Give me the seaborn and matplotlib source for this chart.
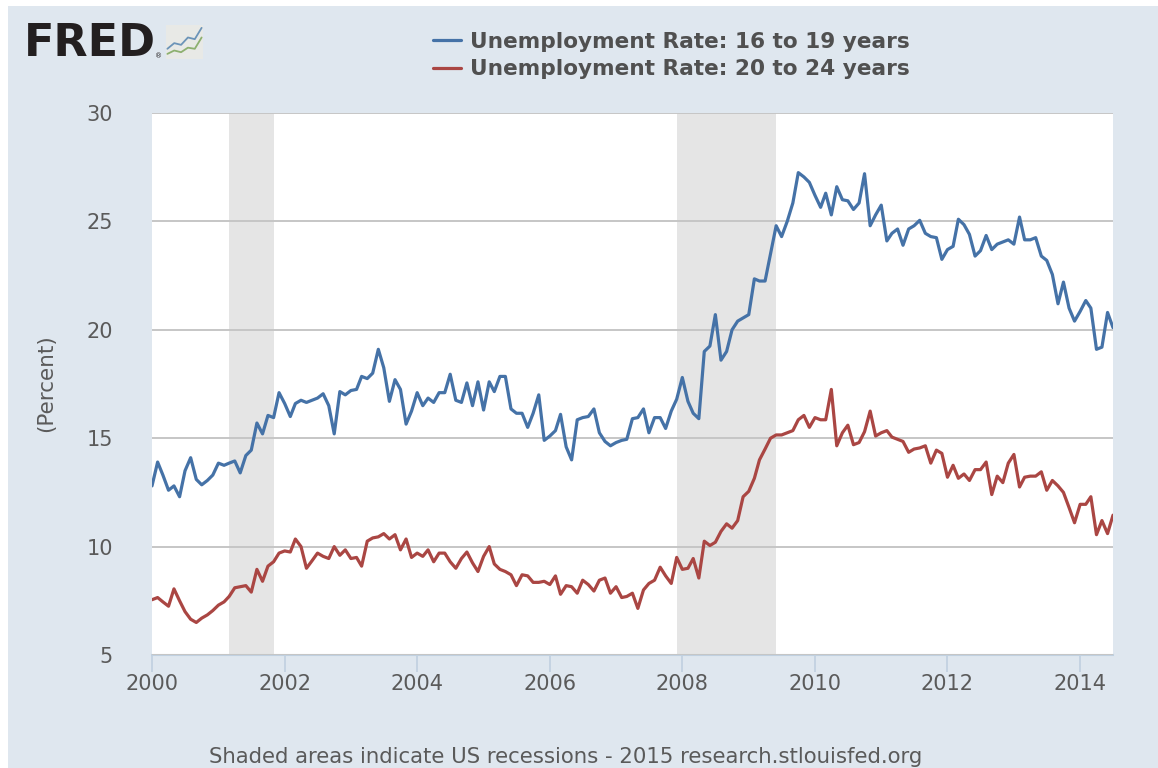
import numpy as np
import pandas as pd
import matplotlib
matplotlib.use("Agg")
import matplotlib.pyplot as plt
from matplotlib.patches import Rectangle
import seaborn as sns

START = "2000-01-01"
teen = [12.8,13.9,13.3,12.6,12.8,12.3,13.5,14.1,13.1,12.85,13.05,13.3,13.85,13.75,13.85,13.95,13.4,14.2,14.45,15.7,
15.2,16.05,15.95,17.1,16.6,16.0,16.6,16.75,16.65,16.75,16.85,17.05,16.5,15.2,17.15,17.0,17.2,17.25,17.85,17.75,
18.0,19.1,18.25,16.7,17.7,17.25,15.65,16.25,17.1,16.5,16.85,16.65,17.1,17.1,17.95,16.75,16.65,17.55,16.5,17.6,
16.3,17.6,17.15,17.85,17.85,16.35,16.15,16.15,15.5,16.15,17.0,14.9,15.1,15.35,16.1,14.6,14.0,15.85,15.95,16.0,
16.35,15.25,14.85,14.65,14.8,14.9,14.95,15.9,15.95,16.35,15.25,15.95,15.95,15.45,16.25,16.8,17.8,16.7,16.15,15.9,
19.0,19.25,20.7,18.6,19.0,20.0,20.4,20.55,20.7,22.35,22.25,22.25,23.5,24.8,24.3,25.0,25.85,27.25,27.05,26.8,
26.2,25.65,26.3,25.3,26.6,26.0,25.95,25.55,25.85,27.2,24.8,25.3,25.75,24.1,24.45,24.65,23.9,24.65,24.8,25.05,
24.45,24.3,24.25,23.25,23.7,23.85,25.1,24.85,24.4,23.4,23.65,24.35,23.7,23.95,24.05,24.15,23.95,25.2,24.15,24.15,
24.25,23.4,23.2,22.55,21.2,22.2,21.0,20.4,20.85,21.35,21.0,19.1,19.2,20.8,20.1]
young = [7.55,7.65,7.45,7.25,8.05,7.5,7.0,6.65,6.5,6.7,6.85,7.05,7.3,7.45,7.7,8.1,8.15,8.2,7.9,8.95,
8.4,9.1,9.3,9.7,9.8,9.75,10.35,10.0,9.0,9.35,9.7,9.55,9.45,10.0,9.6,9.85,9.45,9.5,9.1,10.25,
10.4,10.45,10.6,10.35,10.55,9.85,10.35,9.5,9.7,9.55,9.85,9.3,9.7,9.7,9.3,9.0,9.45,9.75,9.25,8.85,
9.55,10.0,9.2,8.95,8.85,8.7,8.2,8.7,8.65,8.35,8.35,8.4,8.25,8.65,7.8,8.2,8.15,7.85,8.45,8.25,
7.95,8.45,8.55,7.85,8.15,7.65,7.7,7.85,7.15,8.0,8.3,8.45,9.05,8.65,8.3,9.5,8.95,9.0,9.45,8.55,
10.25,10.05,10.2,10.7,11.05,10.85,11.2,12.3,12.55,13.15,14.0,14.5,15.0,15.15,15.15,15.25,15.35,15.85,16.05,15.5,
15.95,15.85,15.85,17.25,14.65,15.25,15.6,14.7,14.8,15.3,16.25,15.1,15.25,15.35,15.05,14.95,14.85,14.35,14.5,14.55,
14.65,13.85,14.45,14.3,13.2,13.75,13.15,13.35,13.05,13.55,13.55,13.9,12.4,13.25,12.95,13.85,14.25,12.75,13.2,13.25,
13.25,13.45,12.6,13.05,12.8,12.5,11.8,11.1,11.95,11.95,12.3,10.55,11.2,10.6,11.45]
series_names = ["Unemployment Rate: 16 to 19 years", "Unemployment Rate: 20 to 24 years"]
recessions = [("2001-03-01", "2001-11-01"), ("2007-12-01", "2009-06-01")]
y_ticks = [5, 10, 15, 20, 25, 30]
x_years = [2000, 2002, 2004, 2006, 2008, 2010, 2012, 2014]
logo_blue = [0.9, 1.4, 1.25, 1.9, 1.75, 2.75]
logo_green = [0.45, 0.75, 0.6, 1.0, 0.9, 1.9]

BG = "#DFE7EF"
TXT = "#5A5A5A"
W, H = 1158, 768
sns.set_theme(style="white")
plt.rcParams["font.family"] = "DejaVu Sans"

fig = plt.figure(figsize=(W/100, H/100), dpi=100, facecolor="white")
fig.add_artist(Rectangle((8/W, 0), 1-8/W, 1-6/H, transform=fig.transFigure, facecolor=BG,
                         edgecolor="none", zorder=-5))
ax = fig.add_axes([152/W, 1-655/H, (1113-152)/W, (655-113)/H], facecolor="white")

dates = pd.date_range(START, periods=len(teen), freq="MS")
df = pd.DataFrame({"date": dates, series_names[0]: teen, series_names[1]: young})
long = df.melt("date", var_name="series", value_name="rate")

for a, b in recessions:
    ax.axvspan(pd.Timestamp(a), pd.Timestamp(b), facecolor="#E5E5E5", edgecolor="none", zorder=1)
ax.set_axisbelow(False)
ax.yaxis.grid(True, color="#C6C6C6", lw=1.4, zorder=1.5)
ax.xaxis.grid(False)
sns.lineplot(data=long, x="date", y="rate", hue="series", hue_order=series_names,
             palette=["#4572A7", "#AA4643"], lw=2.3, ax=ax, legend=True, zorder=3, estimator=None)
ax.set_xlim(dates[0], dates[-1])
ax.set_ylim(5, 30)
ax.set_yticks(y_ticks)
ax.set_xticks([pd.Timestamp(f"{y}-01-01") for y in x_years])
ax.set_xticklabels([str(y) for y in x_years])
ax.tick_params(axis="y", length=0, labelsize=15, labelcolor=TXT, pad=28)
ax.tick_params(axis="x", length=12, width=1.2, color="#C0D0E0", labelsize=15, labelcolor=TXT, pad=2, bottom=True)
for s in ["top", "right", "left"]:
    ax.spines[s].set_visible(False)
ax.spines["bottom"].set_color("#C0D0E0")
ax.spines["bottom"].set_linewidth(1.5)
ax.set_xlabel("")
ax.set_ylabel("(Percent)", fontsize=15.5, color=TXT, labelpad=0)
ax.yaxis.set_label_coords((56-152)/(1113-152), (655-383)/(655-113))

handles, labels = ax.get_legend_handles_labels()
ax.get_legend().remove()
leg = fig.legend(handles, labels, loc="upper left", bbox_to_anchor=(433/W, 1-32/H), frameon=False,
                 prop={"weight": "bold", "size": 15.6}, labelcolor="#505050", handlelength=1.3,
                 handletextpad=0.4, labelspacing=0.33, borderpad=0, borderaxespad=0)

fig.text(209/W, 1-757/H, "Shaded areas indicate US recessions - 2015 research.stlouisfed.org",
         fontsize=15.35, color=TXT, ha="left", va="center")

# FRED logo
fig.text(24/W, 1-43/H, "FRED", fontsize=32, fontweight="bold",
         color="#231F20", ha="left", va="center")
fig.text(155/W, 1-56/H, "®", fontsize=5, color="#231F20", ha="left", va="center")
ic = fig.add_axes([166/W, 1-59/H, 37/W, 34/H], facecolor="#E8E9E6")
xs = np.arange(len(logo_blue))
sns.lineplot(x=xs, y=logo_blue, color="#6C94B8", lw=1.3, ax=ic, estimator=None)
sns.lineplot(x=xs, y=logo_green, color="#8DB070", lw=1.3, ax=ic, estimator=None)
ic.set_xlim(-0.2, 5.2); ic.set_ylim(0, 3)
ic.set_xticks([]); ic.set_yticks([]); ic.set_xlabel(""); ic.set_ylabel("")
for s in ic.spines.values():
    s.set_visible(False)

fig.savefig("out.png", dpi=100, facecolor=fig.get_facecolor())
